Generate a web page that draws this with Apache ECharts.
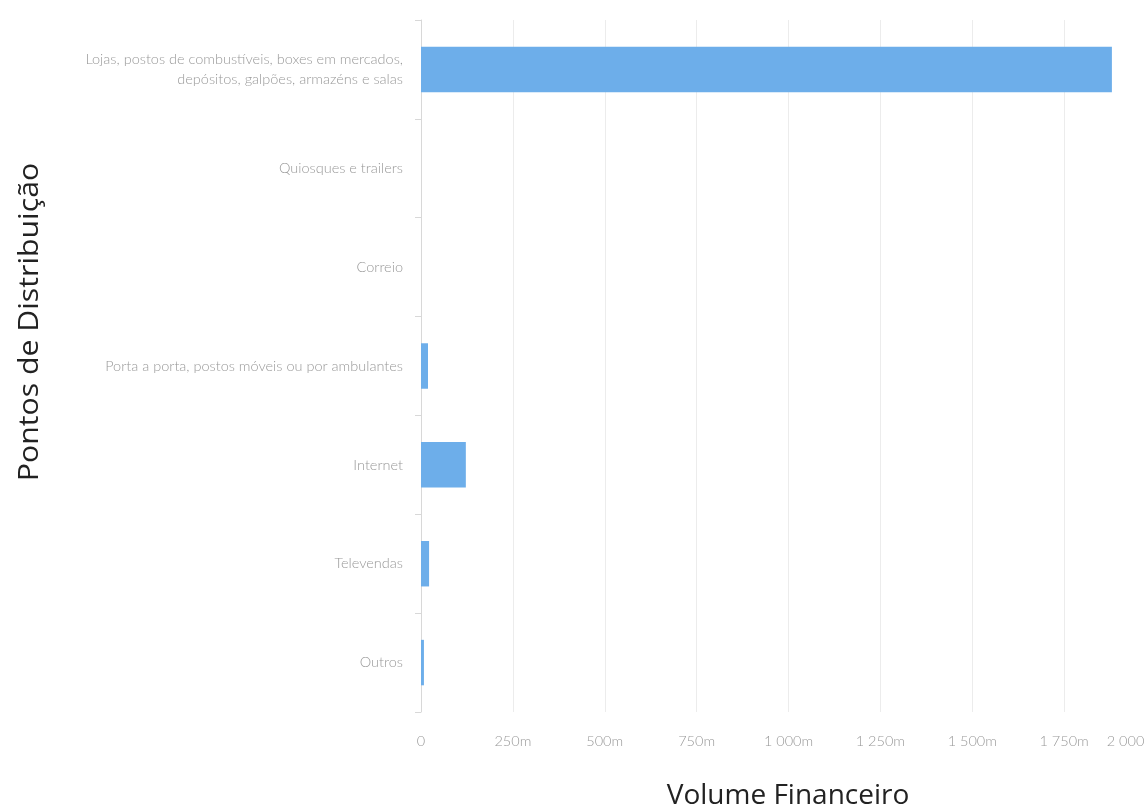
<!DOCTYPE html>
<html>
<head>
<meta charset="utf-8">
<script src="https://cdn.jsdelivr.net/npm/echarts@6/dist/echarts.min.js"></script>
<style>
  html, body { margin: 0; padding: 0; background: #fff; }
  #chart { width: 1144px; height: 812px; }
</style>
</head>
<body>
<div id="chart"></div>
<script>
// Distribution points and their financial volume
const categories = [
  'Lojas, postos de combustíveis, boxes em mercados,\ndepósitos, galpões, armazéns e salas',
  'Quiosques e trailers',
  'Correio',
  'Porta a porta, postos móveis ou por ambulantes',
  'Internet',
  'Televendas',
  'Outros'
];
const volume = [1880, 0, 0, 19, 122, 22, 8];
const xTicks = [0, 250, 500, 750, 1000, 1250, 1500, 1750, 2000];
const xTitle = 'Volume Financeiro';
const yTitle = 'Pontos de Distribuição';

function fmtTick(v) {
  if (v === 0) return '0';
  return String(v).replace(/\B(?=(\d{3})+(?!\d))/g, ' ') + 'm';
}

const chart = echarts.init(document.getElementById('chart'));
chart.setOption({
  animation: false,
  backgroundColor: '#fff',
  grid: {
    left: 421, top: 20, width: 735, height: 692,
    containLabel: false,
    outerBoundsMode: 'none'
  },
  // axis titles
  graphic: [
    {
      type: 'text',
      x: 788, y: 796,
      style: {
        text: xTitle,
        font: '28px "Open Sans"',
        fill: '#222',
        align: 'center',
        verticalAlign: 'middle'
      }
    },
    {
      type: 'text',
      x: 30, y: 322,
      rotation: Math.PI / 2,
      scaleX: 1.12,
      style: {
        text: yTitle,
        font: '27px "Open Sans"',
        fill: '#222',
        align: 'center',
        verticalAlign: 'middle'
      }
    }
  ],
  xAxis: {
    type: 'value',
    min: xTicks[0],
    max: xTicks[xTicks.length - 1],
    interval: 250,
    axisLine: { show: false },
    axisTick: { show: false },
    axisLabel: {
      margin: 22,
      color: '#999',
      fontFamily: 'Lato',
      fontWeight: 300,
      fontSize: 14.5,
      alignMaxLabel: 'right',
      formatter: fmtTick
    },
    splitLine: { show: true, lineStyle: { color: '#ececec', width: 1 } }
  },
  yAxis: {
    type: 'category',
    data: categories,
    inverse: true,
    axisLine: { show: true, lineStyle: { color: '#d8d8d8' } },
    axisTick: { show: true, length: 6, lineStyle: { color: '#d8d8d8' } },
    axisLabel: {
      margin: 18,
      color: '#999',
      fontFamily: 'Lato',
      fontWeight: 300,
      fontSize: 14.5,
      lineHeight: 20,
      align: 'right'
    },
    splitLine: { show: false }
  },
  series: [{
    type: 'bar',
    data: volume,
    barWidth: '46%',
    itemStyle: { color: '#6daeea' }
  }]
});
</script>
</body>
</html>
